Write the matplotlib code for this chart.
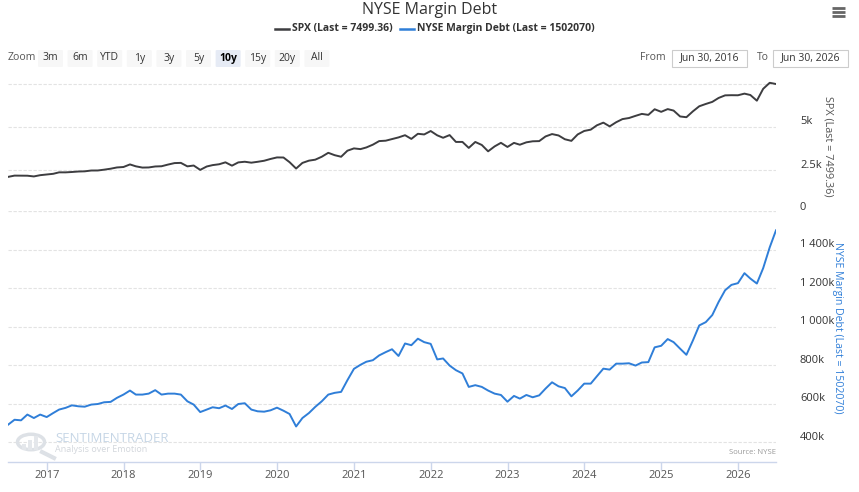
import matplotlib
matplotlib.use("Agg")
import matplotlib.pyplot as plt
import matplotlib.dates as mdates
from matplotlib.patches import FancyBboxPatch, Rectangle, Circle
from matplotlib.lines import Line2D
from matplotlib.transforms import blended_transform_factory, offset_copy
import pandas as pd

plt.rcParams['font.family'] = ['Open Sans', 'DejaVu Sans']

# ---------------- data ----------------
dates = pd.date_range('2016-06-30', periods=121, freq='ME')

spx = [2099, 2174, 2171, 2168, 2126, 2199, 2239,
       2279, 2364, 2363, 2384, 2412, 2423, 2470, 2472, 2519, 2575, 2648, 2674,
       2824, 2714, 2641, 2648, 2705, 2718, 2816, 2902, 2914, 2712, 2760, 2507,
       2704, 2784, 2834, 2946, 2752, 2942, 2980, 2926, 2977, 3038, 3141, 3231,
       3226, 2954, 2585, 2912, 3044, 3100, 3271, 3500, 3363, 3270, 3622, 3756,
       3714, 3811, 3973, 4181, 4204, 4298, 4395, 4523, 4308, 4605, 4567, 4766,
       4516, 4374, 4530, 4132, 4132, 3785, 4130, 3955, 3586, 3872, 4080, 3840,
       4077, 3970, 4109, 4169, 4180, 4450, 4589, 4508, 4288, 4194, 4568, 4770,
       4846, 5096, 5254, 5036, 5278, 5460, 5522, 5648, 5762, 5705, 6032, 5882,
       6041, 5955, 5612, 5569, 5912, 6205, 6339, 6460, 6688, 6840, 6849, 6845,
       6940, 6860, 6530, 7220, 7570, 7499.36]

margin_debt_k = [490, 516, 513, 543, 525, 543, 530,
                 551, 569, 578, 591, 586, 584, 595, 598, 607, 609, 630, 647,
                 668, 647, 647, 652, 670, 647, 652, 652, 647, 612, 595, 556,
                 569, 581, 576, 590, 572, 598, 602, 569, 560, 558, 565, 579,
                 563, 546, 481, 525, 551, 583, 612, 647, 656, 661, 722, 781,
                 802, 818, 826, 851, 868, 883, 848, 913, 904, 938, 920, 911,
                 830, 835, 798, 774, 757, 687, 696, 687, 668, 652, 645, 610,
                 640, 626, 645, 633, 643, 678, 711, 690, 681, 638, 668, 704,
                 704, 742, 782, 777, 808, 808, 810, 798, 814, 816, 893, 901,
                 936, 920, 886, 854, 929, 1007, 1024, 1061, 1129, 1190, 1218, 1227,
                 1279, 1251, 1225, 1305, 1413, 1502.07]

spx_ticks = [0, 2500, 5000, 7500]
spx_tick_labels = ['0', '2.5k', '5k', '']
md_ticks = [400, 600, 800, 1000, 1200, 1400, 1600]
md_tick_labels = ['400k', '600k', '800k', '1 000k', '1 200k', '1 400k', '']
year_ticks = list(range(2017, 2027))

title = 'NYSE Margin Debt'
spx_name = 'SPX (Last = 7499.36)'
md_name = 'NYSE Margin Debt (Last = 1502070)'
zoom_buttons = ['3m', '6m', 'YTD', '1y', '3y', '5y', '10y', '15y', '20y', 'All']
selected_button = '10y'
from_date = 'Jun 30, 2016'
to_date = 'Jun 30, 2026'

# ---------------- style ----------------
W, H = 859, 492
SPX_COLOR = '#3d3d40'
MD_COLOR = '#2f7ed8'
GRID = '#e3e3e3'
TXT = '#333333'

fig = plt.figure(figsize=(W / 100, H / 100), dpi=100)
fig.patch.set_facecolor('white')


def fx(x):
    return x / W


def fy(y):
    return 1 - y / H


xl, xr = 8, 776
x0 = pd.Timestamp('2016-06-30')
x1 = pd.Timestamp('2026-06-30')

# top pane: y 80..213 px  (0 at 213, 7500 at 84)
top_t, top_b = 80, 213
ax1 = fig.add_axes([fx(xl), fy(top_b), (xr - xl) / W, (top_b - top_t) / H])
spx_max = 7500 + (84 - top_t) / ((213 - 84) / 7500)
ax1.set_ylim(0, spx_max)
# bottom pane: y 211..462 px
bot_t, bot_b = 211, 462
px_per_k = 38.5 / 200
ax2 = fig.add_axes([fx(xl), fy(bot_b), (xr - xl) / W, (bot_b - bot_t) / H])
ax2.set_ylim(400 - (bot_b - 442) / px_per_k, 1600 + (211.5 - bot_t) / px_per_k)

for ax in (ax1, ax2):
    ax.set_xlim(x0, x1)
    ax.set_facecolor('none')
    for s in ax.spines.values():
        s.set_visible(False)
    ax.tick_params(axis='y', left=False, right=False, labelleft=False, labelright=False)

ax1.tick_params(axis='x', bottom=False, labelbottom=False)

# grids
for v in spx_ticks:
    ax1.axhline(v, color=GRID, lw=0.8, ls=(0, (3, 1.5)), zorder=0)
for v in md_ticks:
    ax2.axhline(v, color=GRID, lw=0.8, ls=(0, (3, 1.5)), zorder=0)

ax1.plot(dates, spx, color=SPX_COLOR, lw=1.4, zorder=3, solid_joinstyle='round')
ax2.plot(dates, margin_debt_k, color=MD_COLOR, lw=1.4, zorder=3, solid_joinstyle='round')

# y labels on right
for ax, ticks, labels in ((ax1, spx_ticks, spx_tick_labels), (ax2, md_ticks, md_tick_labels)):
    tr = offset_copy(blended_transform_factory(ax.transAxes, ax.transData), fig=fig,
                     x=800 - xr, y=5, units='dots')
    for v, lab in zip(ticks, labels):
        if lab:
            ax.text(1.0, v, lab, transform=tr, ha='left', va='center',
                    fontsize=8, color=TXT, clip_on=False)

# x axis of bottom pane
ax2.spines['bottom'].set_visible(True)
ax2.spines['bottom'].set_color('#ccd6eb')
ax2.spines['bottom'].set_linewidth(1)
ax2.set_xticks([pd.Timestamp(f'{y}-01-01') for y in year_ticks])
ax2.xaxis.set_major_formatter(mdates.DateFormatter('%Y'))
ax2.tick_params(axis='x', direction='out', length=6, width=1, color='#ccd6eb',
                labelsize=8, labelcolor='#555555', pad=0)

# axis titles
fig.text(fx(828), fy(146), spx_name, rotation=-90, ha='center', va='center',
         fontsize=7.8, color='#555555')
fig.text(fx(837), fy(328), md_name, rotation=-90, ha='center', va='center',
         fontsize=7.6, color=MD_COLOR)

# title
fig.text(fx(430), fy(10), title, ha='center', va='center', fontsize=11.5, color=TXT)

# legend
fig.add_artist(Line2D([fx(275), fx(289)], [fy(29), fy(29)], color=SPX_COLOR, lw=1.8))
fig.text(fx(292), fy(29), spx_name, ha='left', va='center', fontsize=7.5,
         fontweight='bold', color=TXT)
fig.add_artist(Line2D([fx(400), fx(414)], [fy(29), fy(29)], color=MD_COLOR, lw=1.8))
fig.text(fx(417), fy(29), md_name, ha='left', va='center', fontsize=7.5,
         fontweight='bold', color=TXT)

# menu icon
for yy in (7.5, 11.5, 15.5):
    fig.add_artist(Line2D([fx(832), fx(845)], [fy(yy), fy(yy)], color='#666666', lw=2.0,
                          solid_capstyle='butt'))

# zoom buttons
fig.text(fx(8), fy(58), 'Zoom', ha='left', va='center', fontsize=7.5, color='#555555')
bx = 38
for b in zoom_buttons:
    sel = b == selected_button
    fig.add_artist(FancyBboxPatch((fx(bx), fy(67)), fx(25), 17 / H,
                                  boxstyle='round,pad=0,rounding_size=0.002',
                                  transform=fig.transFigure,
                                  facecolor='#e6ebf5' if sel else '#f7f7f7',
                                  edgecolor='none'))
    fig.text(fx(bx + 12.5), fy(58), b, ha='center', va='center', fontsize=7.5,
             color='#000000' if sel else '#333333',
             fontweight='bold' if sel else 'normal')
    bx += 29.6

# From / To boxes
fig.text(fx(640), fy(58), 'From', ha='left', va='center', fontsize=7.5, color='#555555')
fig.add_artist(Rectangle((fx(672), fy(67)), fx(75), 17 / H, transform=fig.transFigure,
                         facecolor='white', edgecolor='#cccccc', lw=0.8))
fig.text(fx(709.5), fy(58), from_date, ha='center', va='center', fontsize=7.5, color=TXT)
fig.text(fx(757), fy(58), 'To', ha='left', va='center', fontsize=7.5, color='#555555')
fig.add_artist(Rectangle((fx(773), fy(67)), fx(75), 17 / H, transform=fig.transFigure,
                         facecolor='white', edgecolor='#cccccc', lw=0.8))
fig.text(fx(810.5), fy(58), to_date, ha='center', va='center', fontsize=7.5, color=TXT)

# source
fig.text(fx(776), fy(452), 'Source: NYSE', ha='right', va='center', fontsize=5.5,
         color='#999999')

# watermark
fig.add_artist(Circle((fx(31), fy(442)), 13.5 / W, transform=fig.transFigure,
                      facecolor='none', edgecolor='#dde1e6', lw=2.5))
fig.add_artist(Line2D([fx(42), fx(54)], [fy(452), fy(458)], color='#dde1e6', lw=3))
for i, hh in enumerate((6, 10, 14)):
    fig.add_artist(Rectangle((fx(22 + i * 6), fy(450)), 4 / W, hh / H,
                             transform=fig.transFigure, facecolor='#e4e7eb', edgecolor='none'))
fig.text(fx(55), fy(438), 'SENTIMENTRADER', ha='left', va='center', fontsize=9.5,
         color='#c6d6e6')
fig.text(fx(55), fy(449), 'Analysis over Emotion', ha='left', va='center', fontsize=6.5,
         color='#d3d7dc')

fig.savefig('out.png', dpi=100, facecolor='white')
